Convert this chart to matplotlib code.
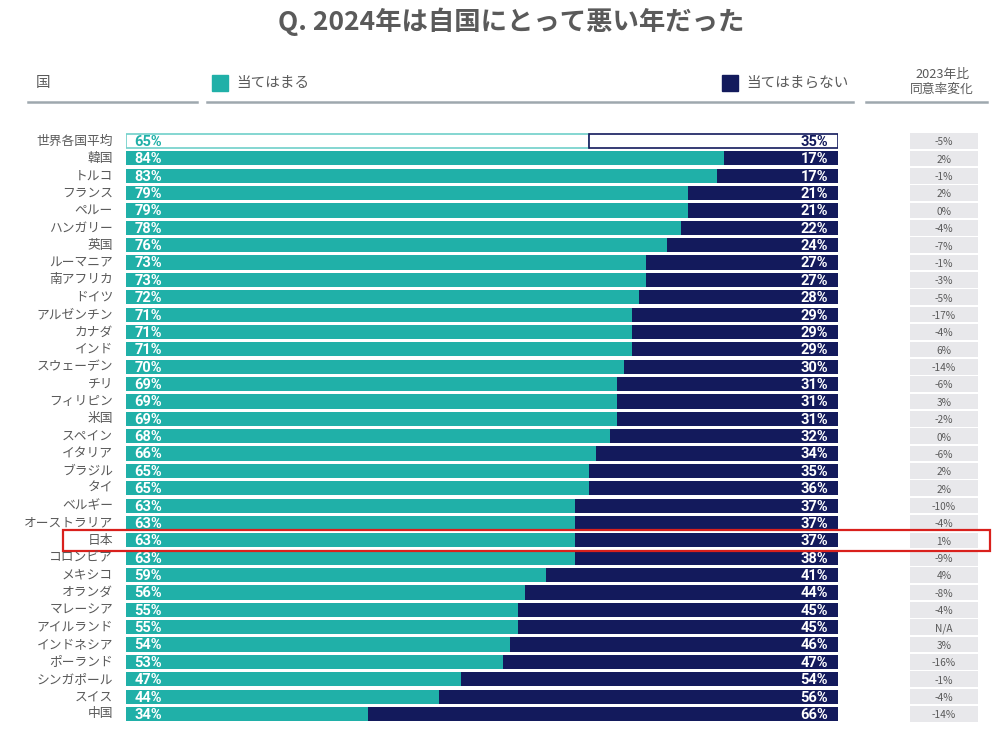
import matplotlib.pyplot as plt
from matplotlib.patches import Rectangle
from matplotlib.lines import Line2D

plt.rcParams['font.family'] = ['Noto Sans CJK JP', 'DejaVu Sans']

# data
countries = ['世界各国平均', '韓国', 'トルコ', 'フランス', 'ペルー', 'ハンガリー', '英国', 'ルーマニア',
             '南アフリカ', 'ドイツ', 'アルゼンチン', 'カナダ', 'インド', 'スウェーデン', 'チリ', 'フィリピン',
             '米国', 'スペイン', 'イタリア', 'ブラジル', 'タイ', 'ベルギー', 'オーストラリア', '日本',
             'コロンビア', 'メキシコ', 'オランダ', 'マレーシア', 'アイルランド', 'インドネシア', 'ポーランド',
             'シンガポール', 'スイス', '中国']
agree = [65, 84, 83, 79, 79, 78, 76, 73, 73, 72, 71, 71, 71, 70, 69, 69, 69, 68, 66, 65, 65, 63, 63, 63,
         63, 59, 56, 55, 55, 54, 53, 47, 44, 34]
disagree = [35, 17, 17, 21, 21, 22, 24, 27, 27, 28, 29, 29, 29, 30, 31, 31, 31, 32, 34, 35, 36, 37, 37, 37,
            38, 41, 44, 45, 45, 46, 47, 54, 56, 66]
change = ['-5%', '2%', '-1%', '2%', '0%', '-4%', '-7%', '-1%', '-3%', '-5%', '-17%', '-4%', '6%', '-14%',
          '-6%', '3%', '-2%', '0%', '-6%', '2%', '2%', '-10%', '-4%', '1%', '-9%', '4%', '-8%', '-4%',
          'N/A', '3%', '-16%', '-1%', '-4%', '-14%']
highlight = '日本'

teal = '#20b0a8'
navy = '#131a5c'
grey_txt = '#5a5a5a'
line_col = '#9ea8ae'

W, H = 1000, 730
fig = plt.figure(figsize=(10, 7.3), dpi=100)


def fx(px):
    return px / W


def fy(py):
    return 1 - py / H


n = len(countries)
row0, rowN = 141, 714
step = (rowN - row0) / (n - 1)
top_px, bot_px = row0 - step / 2, rowN + step / 2

# main bars
ax = fig.add_axes([fx(126), fy(bot_px), fx(838 - 126), fy(top_px) - fy(bot_px)])
ax.set_xlim(0, 100)
ax.set_ylim(n - 0.5, -0.5)
ax.axis('off')
ys = list(range(n))
bh = 0.82
for i in ys:
    a, d = agree[i], disagree[i]
    if i == 0:
        ax.barh(i, a, height=bh, color='white', edgecolor='#6fd0ca', linewidth=1.2)
        ax.barh(i, 100 - a, left=a, height=bh, color='white', edgecolor=navy, linewidth=1.2)
        c1, c2 = teal, navy
    else:
        ax.barh(i, a, height=bh, color=teal, linewidth=0)
        ax.barh(i, 100 - a, left=a, height=bh, color=navy, linewidth=0)
        c1, c2 = 'white', 'white'
    ax.text(1.2, i + 0.05, f'{a}%', color=c1, fontsize=10.5, fontweight='bold', family='Roboto',
            va='center', ha='left')
    ax.text(98.6, i + 0.05, f'{d}%', color=c2, fontsize=10.5, fontweight='bold', family='Roboto',
            va='center', ha='right')
    fig.text(fx(113), fy(row0 + i * step), countries[i], color=grey_txt, fontsize=9.2,
             ha='right', va='center')

# change column
ax2 = fig.add_axes([fx(910), fy(bot_px), fx(978 - 910), fy(top_px) - fy(bot_px)])
ax2.set_xlim(0, 1)
ax2.set_ylim(n - 0.5, -0.5)
ax2.axis('off')
ax2.barh(ys, 1, height=0.9, color='#e8e8eb', linewidth=0)
for i in ys:
    ax2.text(0.5, i + 0.08, change[i], color=grey_txt, fontsize=7.3, ha='center', va='center')

# highlight box
k = countries.index(highlight)
yc = row0 + k * step
fig.patches.append(Rectangle((fx(63), fy(yc + 10.5)), fx(990 - 63), fy(yc - 10.5) - fy(yc + 10.5),
                             transform=fig.transFigure, fill=False, edgecolor='#d9201c', linewidth=1.6))

# title and header
fig.text(0.511, fy(22), 'Q. 2024年は自国にとって悪い年だった', fontsize=19, fontweight='bold',
         color='#5a5a5a', ha='center', va='center')
fig.text(fx(36), fy(83), '国', fontsize=10.5, color=grey_txt, ha='left', va='center')
fig.patches.append(Rectangle((fx(212), fy(91)), fx(16), fy(75) - fy(91), transform=fig.transFigure,
                             color=teal))
fig.text(fx(236), fy(83), '当てはまる', fontsize=10.5, color=grey_txt, ha='left', va='center')
fig.patches.append(Rectangle((fx(722), fy(91)), fx(16), fy(75) - fy(91), transform=fig.transFigure,
                             color=navy))
fig.text(fx(746), fy(83), '当てはまらない', fontsize=10.5, color=grey_txt, ha='left', va='center')
fig.text(fx(942), fy(82), '2023年比\n同意率変化', fontsize=9.2, color=grey_txt, ha='center', va='center',
         linespacing=1.15)
for x0, x1 in [(28, 197), (207, 853), (866, 987)]:
    fig.lines.append(Line2D([fx(x0), fx(x1)], [fy(102), fy(102)], transform=fig.transFigure,
                            color=line_col, linewidth=1.8))

fig.savefig('out.png', dpi=100, facecolor='white')
